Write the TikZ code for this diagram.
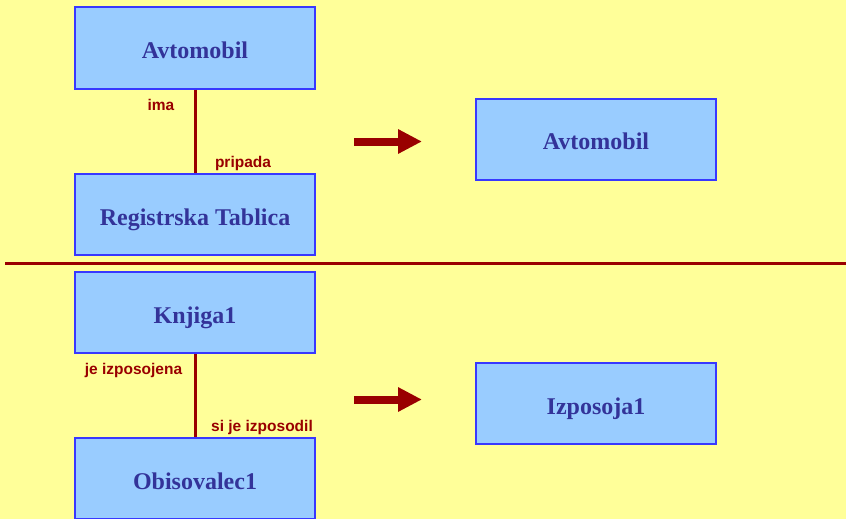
\documentclass[tikz,border=0pt]{standalone}
\usepackage{fontspec}
\setmainfont{Liberation Serif}
\newfontfamily\labelfont{Liberation Sans}
\usetikzlibrary{arrows.meta}
\definecolor{bgyellow}{HTML}{FFFF99}
\definecolor{boxfill}{HTML}{99CCFF}
\definecolor{boxline}{HTML}{3838FF}
\definecolor{boxtext}{HTML}{333399}
\definecolor{darkred}{HTML}{990000}
\tikzset{
  entity/.style={draw=boxline, fill=boxfill, line width=2pt, minimum width=240pt, minimum height=81pt,
    inner sep=0pt, text height=21.5pt, text depth=0pt, text=boxtext, font=\fontsize{24}{27}\selectfont\bfseries},
  rolelabel/.style={text=darkred, font=\labelfont\fontsize{15.5}{18}\selectfont\bfseries, inner sep=0pt},
  conn/.style={draw=darkred, line width=3pt},
  bigarrow/.style={draw=darkred, line width=8pt, -{Triangle[length=24pt,width=23pt]}},
}
\begin{document}
\begin{tikzpicture}[x=1pt,y=-1pt]
\fill[bgyellow] (0,0) rectangle (846,519);
\useasboundingbox (0,0) rectangle (846,519);
\clip (0,0) rectangle (846,519);
% top section
\node[entity] (avto) at (195,48) {Avtomobil};
\node[entity] (tablica) at (195,214.5) {Registrska Tablica};
\draw[conn] (avto.south) -- (tablica.north);
\node[rolelabel] (ima) at (161,105) {ima};
\node[rolelabel] (pripada) at (243,163) {pripada};
\coordinate (a1s) at (354,141.5);
\coordinate (a1e) at (422,141.5);
\draw[bigarrow] (a1s) -- (a1e);
\node[entity] (avto2) at (596,139) {Avtomobil};
% separator
\coordinate (sepL) at (5,263.5);
\coordinate (sepR) at (846,263.5);
\draw[conn] (sepL) -- (sepR);
% bottom section
\node[entity] (knjiga) at (195,312.5) {Knjiga1};
\node[entity] (obis) at (195,478.5) {Obisovalec1};
\draw[conn] (knjiga.south) -- (obis.north);
\node[rolelabel] (jeizp) at (133.5,370) {je izposojena};
\node[rolelabel] (sijeizp) at (262,427) {si je izposodil};
\coordinate (a2s) at (354,399.5);
\coordinate (a2e) at (422,399.5);
\draw[bigarrow] (a2s) -- (a2e);
\node[entity] (izpos) at (596,403.5) {Izposoja1};
\end{tikzpicture}
\end{document}
